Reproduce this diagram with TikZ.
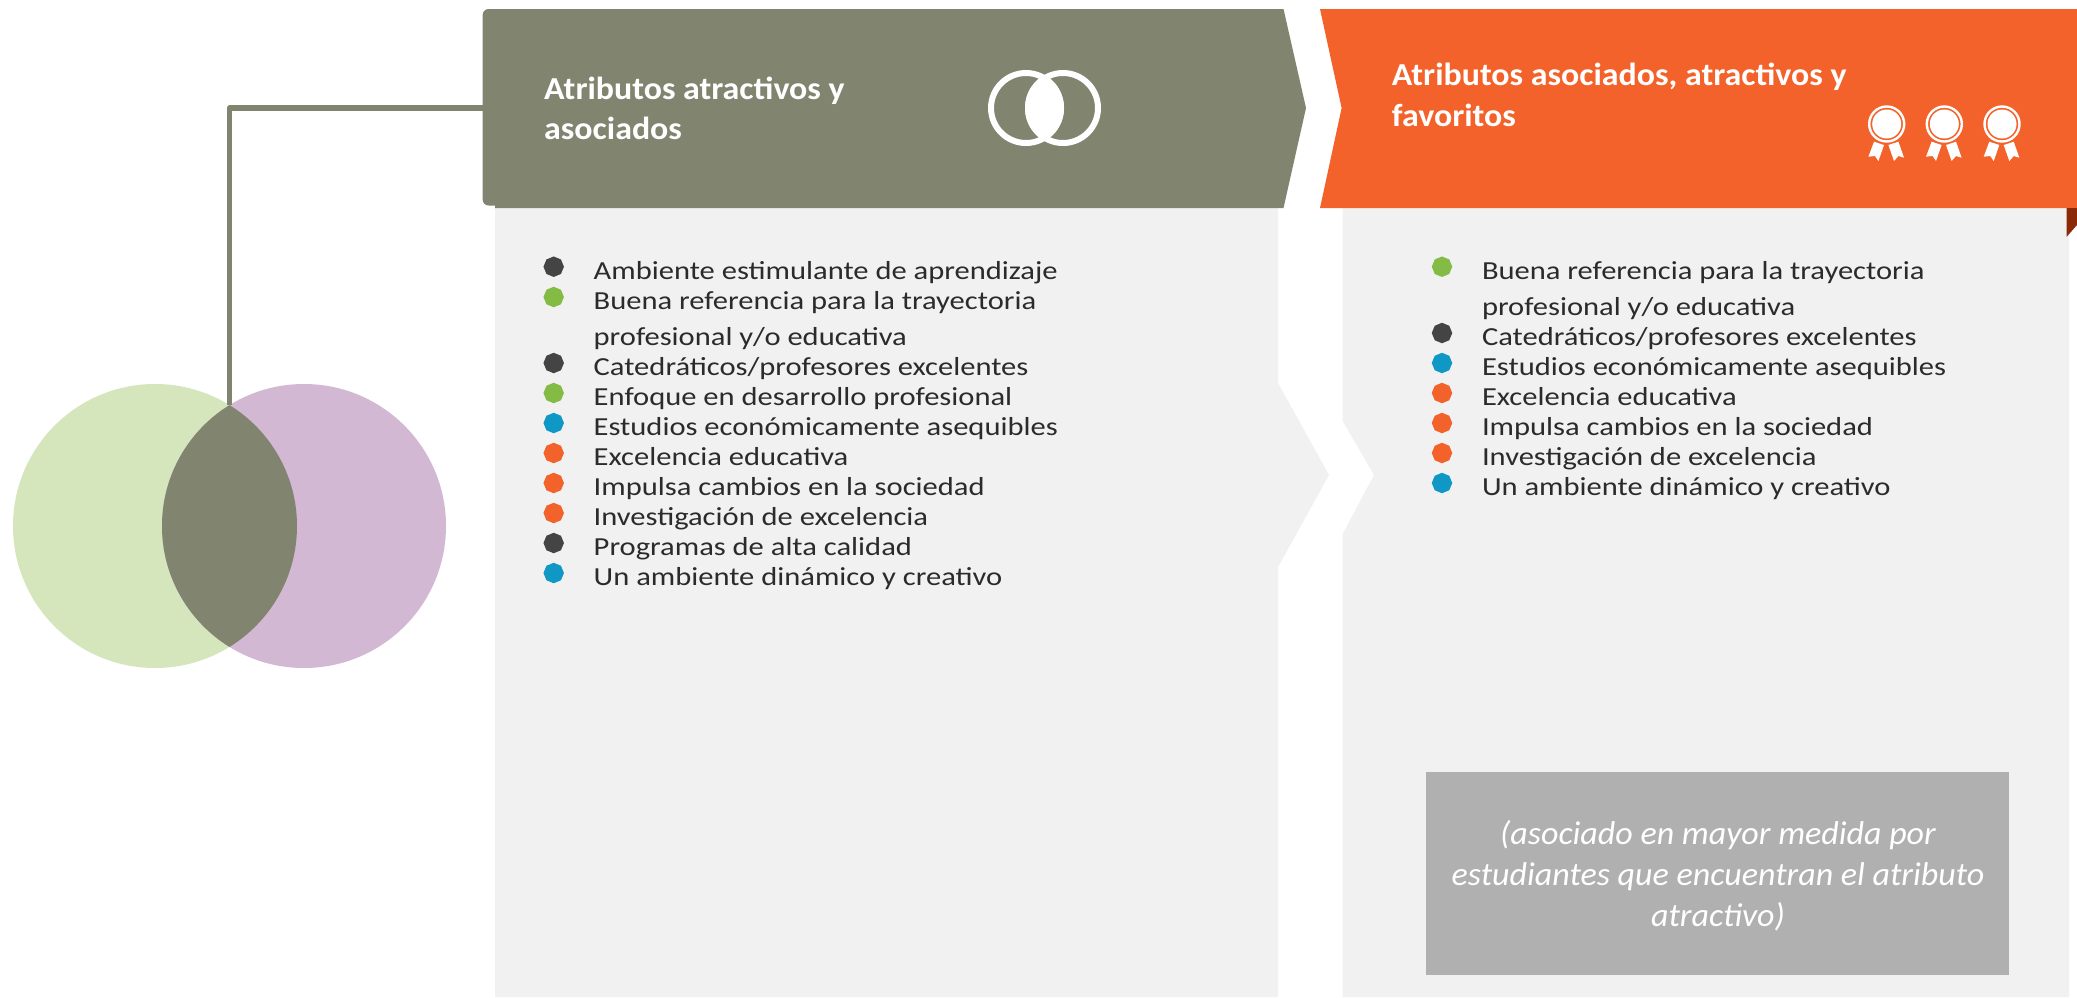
\documentclass[tikz,border=0pt]{standalone}
\usepackage{fontspec}
\setmainfont{Carlito}
\newfontfamily\lstfont[FakeStretch=1.175]{Carlito}
\newfontfamily\headfont[FakeStretch=1.06]{Carlito}
\newfontfamily\boxfont[FakeStretch=1.03]{Carlito}
\usetikzlibrary{shapes.geometric}
\definecolor{olive}{HTML}{81846F}
\definecolor{orangeh}{HTML}{F3622A}
\definecolor{panel}{HTML}{F1F1F1}
\definecolor{boxg}{HTML}{B0B0B0}
\definecolor{vgreen}{HTML}{D5E6BD}
\definecolor{vpurple}{HTML}{D3B8D4}
\definecolor{bdark}{HTML}{444444}
\definecolor{bgreen}{HTML}{84BB44}
\definecolor{bblue}{HTML}{0F97C6}
\definecolor{darkred}{HTML}{8A2A08}
\definecolor{ltext}{HTML}{2B2B2B}
\tikzset{
  bullet/.style={regular polygon,regular polygon sides=8,regular polygon rotate=22.5,minimum size=20.5pt,inner sep=0pt,draw=none},
  item/.style={anchor=base west,inner sep=0pt,text=ltext,font=\lstfont\fontsize{26}{30}\selectfont},
  head/.style={anchor=base west,inner sep=0pt,text=white,font=\headfont\fontsize{32}{36}\selectfont\bfseries},
  boxtext/.style={anchor=base,inner sep=0pt,text=white,font=\boxfont\fontsize{33}{36}\selectfont\itshape},
  vennc/.style={circle,minimum size=284pt,inner sep=0pt,draw=none},
}
\begin{document}
\begin{tikzpicture}[x=1pt,y=-1pt]
\useasboundingbox (0,0) rectangle (2077,997);
\fill[white] (0,0) rectangle (2077,997);
% panels
\fill[panel] (495,208) -- (1278,208) -- (1278,383) -- (1329,475) -- (1278,567) -- (1278,997) -- (495,997) -- cycle;
\fill[panel] (1342.6,208) -- (2069,208) -- (2069,997) -- (1342.6,997) -- (1342.6,534) -- (1374,475) -- (1342.6,421) -- cycle;
% venn
\node[vennc,fill=vgreen] (vl) at (155,526) {};
\node[vennc,fill=vpurple] (vr) at (304,526) {};
\begin{scope}
\clip (155,526) circle[radius=142];
\fill[olive] (304,526) circle[radius=142];
\end{scope}
\coordinate (lenstop) at (229.5,405);
\coordinate (hdrw) at (485,108);
\draw[olive,line width=5.5pt,line join=round] (hdrw) -- (lenstop |- hdrw) -- (lenstop);
% headers
\fill[olive] (1283.5,9) -- (1306,108) -- (1283.5,208) -- (495,208) -- (495,205.5)
  [rounded corners=6pt] -- (482.6,205.5) -- (482.6,9) -- (700,9) [sharp corners] -- cycle;
\fill[orangeh] (1320,9) -- (2077,9) -- (2077,208) -- (1320,208) -- (1341.6,108) -- cycle;
\fill[darkred] (2066.7,208) -- (2077,208) -- (2077,225) -- (2066.7,236.7) -- cycle;
\node[head] (ha1) at (544,99) {Atributos atractivos y};
\node[head] (ha2) at (544,139) {asociados};
\node[head] (hb1) at (1391.7,85) {Atributos asociados, atractivos y};
\node[head] (hb2) at (1391.7,126) {favoritos};
% venn icon
\begin{scope}
\clip (1026,108) circle[radius=38];
\fill[white] (1063,108) circle[radius=38];
\end{scope}
\draw[white,line width=6pt] (1026,108) circle[radius=35];
\draw[white,line width=6pt] (1063,108) circle[radius=35];
% medals
\foreach \mx in {1886.7,1944.3,2002}{
  \begin{scope}[shift={(\mx,124)}]
    \draw[white,line width=2.4pt] (0,0) circle[radius=17.5];
    \fill[white] (0,0) circle[radius=14.5];
    \fill[white] (-12.7,17.7) -- (-2.7,21) -- (-8.3,37) -- (-11.7,32) -- (-18.3,32.7) -- cycle;
    \fill[white] (1.7,21) -- (11.7,17.7) -- (17.3,33.7) -- (11.7,32) -- (7.3,37) -- cycle;
  \end{scope}
}
% left list
\node[bullet,fill=bdark] (la1) at (553.7,266.7) {};
\node[bullet,fill=bgreen] (la2) at (553.7,297) {};
\node[bullet,fill=bdark] (la3) at (553.7,363) {};
\node[bullet,fill=bgreen] (la4) at (553.7,393) {};
\node[bullet,fill=bblue] (la5) at (553.7,423) {};
\node[bullet,fill=orangeh] (la6) at (553.7,453) {};
\node[bullet,fill=orangeh] (la7) at (553.7,483) {};
\node[bullet,fill=orangeh] (la8) at (553.7,513) {};
\node[bullet,fill=bdark] (la9) at (553.7,543) {};
\node[bullet,fill=bblue] (la10) at (553.7,573) {};
\node[item] (ta1) at (593.5,279) {Ambiente estimulante de aprendizaje};
\node[item] (ta2) at (593.5,309) {Buena referencia para la trayectoria};
\node[item] (ta2b) at (593.5,345) {profesional y/o educativa};
\node[item] (ta3) at (593.5,375) {Catedráticos/profesores excelentes};
\node[item] (ta4) at (593.5,405) {Enfoque en desarrollo profesional};
\node[item] (ta5) at (593.5,435) {Estudios económicamente asequibles};
\node[item] (ta6) at (593.5,465) {Excelencia educativa};
\node[item] (ta7) at (593.5,495) {Impulsa cambios en la sociedad};
\node[item] (ta8) at (593.5,525) {Investigación de excelencia};
\node[item] (ta9) at (593.5,555) {Programas de alta calidad};
\node[item] (ta10) at (593.5,585) {Un ambiente dinámico y creativo};
% right list
\node[bullet,fill=bgreen] (lb1) at (1442,266.7) {};
\node[bullet,fill=bdark] (lb2) at (1442,333) {};
\node[bullet,fill=bblue] (lb3) at (1442,363) {};
\node[bullet,fill=orangeh] (lb4) at (1442,393) {};
\node[bullet,fill=orangeh] (lb5) at (1442,423) {};
\node[bullet,fill=orangeh] (lb6) at (1442,453) {};
\node[bullet,fill=bblue] (lb7) at (1442,483) {};
\node[item] (tb1) at (1481.8,279) {Buena referencia para la trayectoria};
\node[item] (tb1b) at (1481.8,315) {profesional y/o educativa};
\node[item] (tb2) at (1481.8,345) {Catedráticos/profesores excelentes};
\node[item] (tb3) at (1481.8,375) {Estudios económicamente asequibles};
\node[item] (tb4) at (1481.8,405) {Excelencia educativa};
\node[item] (tb5) at (1481.8,435) {Impulsa cambios en la sociedad};
\node[item] (tb6) at (1481.8,465) {Investigación de excelencia};
\node[item] (tb7) at (1481.8,495) {Un ambiente dinámico y creativo};
% grey box
\fill[boxg] (1426,772) rectangle (2009,975);
\node[boxtext] (bx1) at (1718,844.5) {(asociado en mayor medida por};
\node[boxtext] (bx2) at (1718,885.5) {estudiantes que encuentran el atributo};
\node[boxtext] (bx3) at (1718,926.5) {atractivo)};
\end{tikzpicture}
\end{document}
